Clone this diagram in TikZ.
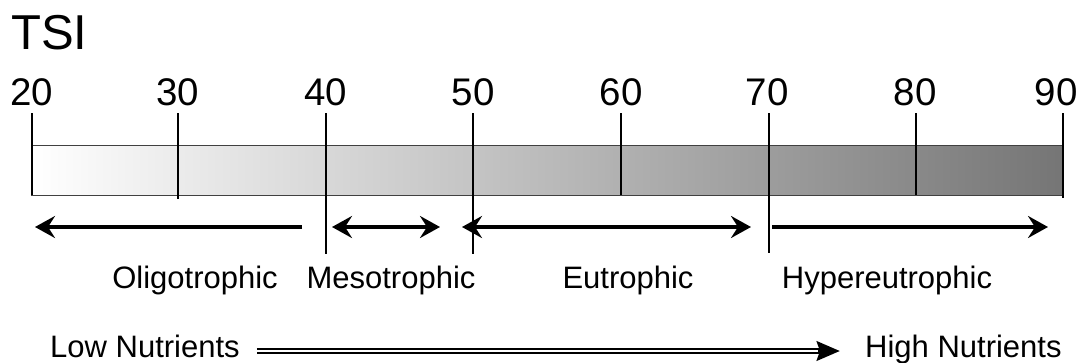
\documentclass[tikz,border=0pt]{standalone}
\usepackage{fontspec}
\setmainfont{Liberation Sans}
\usetikzlibrary{arrows.meta}
\begin{document}
\begin{tikzpicture}[x=1pt,y=-1pt,
  num/.style={anchor=base, font=\fontsize{38.5}{40}\selectfont, inner sep=0pt},
  lab/.style={anchor=base, font=\fontsize{31}{33}\selectfont, inner sep=0pt},
  tickline/.style={line width=1.5pt},
  rangearrow/.style={line width=4pt},
  headtip/.tip={Stealth[length=20pt,width=22pt,inset=7pt]},
]
\useasboundingbox (0,0) rectangle (1081,362);
% title
\node[anchor=base west, inner sep=0pt, font=\fontsize{49}{52}\selectfont] (tsi) at (11,49) {TSI};
% bar
\node (bar) [anchor=north west, minimum width=1032pt, minimum height=50pt, inner sep=0pt,
  draw=black!75, line width=0.8pt, left color=white, right color=black!54] at (31,145) {};
% ticks
\foreach \v/\x/\yb/\nx in {20/32/195/32, 30/178/199/178, 40/326/254/326, 50/473/254/473, 60/621/195/621, 70/769/253/767, 80/916/195/915, 90/1063/198/1056}{
  \coordinate (t\v) at (\x,113);
  \coordinate (b\v) at (\x,\yb);
  \draw[tickline] (t\v) -- (b\v);
  \node[num] (n\v) at (\nx,105) {\v};
}
% range arrows
\coordinate (oa) at (302,227); \coordinate (ob) at (35,227);
\coordinate (ma) at (332,227); \coordinate (mb) at (440,227);
\coordinate (ea) at (462,227); \coordinate (eb) at (751,227);
\coordinate (ha) at (772,227); \coordinate (hb) at (1048,227);
\draw[rangearrow, -headtip] (oa) -- (ob);
\draw[rangearrow, headtip-headtip] (ma) -- (mb);
\draw[rangearrow, headtip-headtip] (ea) -- (eb);
\draw[rangearrow, -headtip] (ha) -- (hb);
% labels
\node[lab] (oligo) at (195,288) {Oligotrophic};
\node[lab] (meso) at (391,288) {Mesotrophic};
\node[lab] (eu) at (628,288) {Eutrophic};
\node[lab] (hyper) at (887,288) {Hypereutrophic};
% nutrients
\node[lab, anchor=base west] (low) at (50,357) {Low Nutrients};
\node[lab, anchor=base west] (high) at (865,357) {High Nutrients};
\coordinate (dstart) at ([xshift=17pt,yshift=6pt]low.base east);
\coordinate (dend) at ([xshift=-25pt,yshift=6pt]high.base west);
\coordinate (dwhite) at ([xshift=-22pt]dend);
\draw[line width=6.5pt, -{Stealth[length=23pt,width=19pt,inset=3pt]}] (dstart) -- (dend);
\draw[white, line width=1.6pt] (dstart) -- (dwhite);
\end{tikzpicture}
\end{document}
